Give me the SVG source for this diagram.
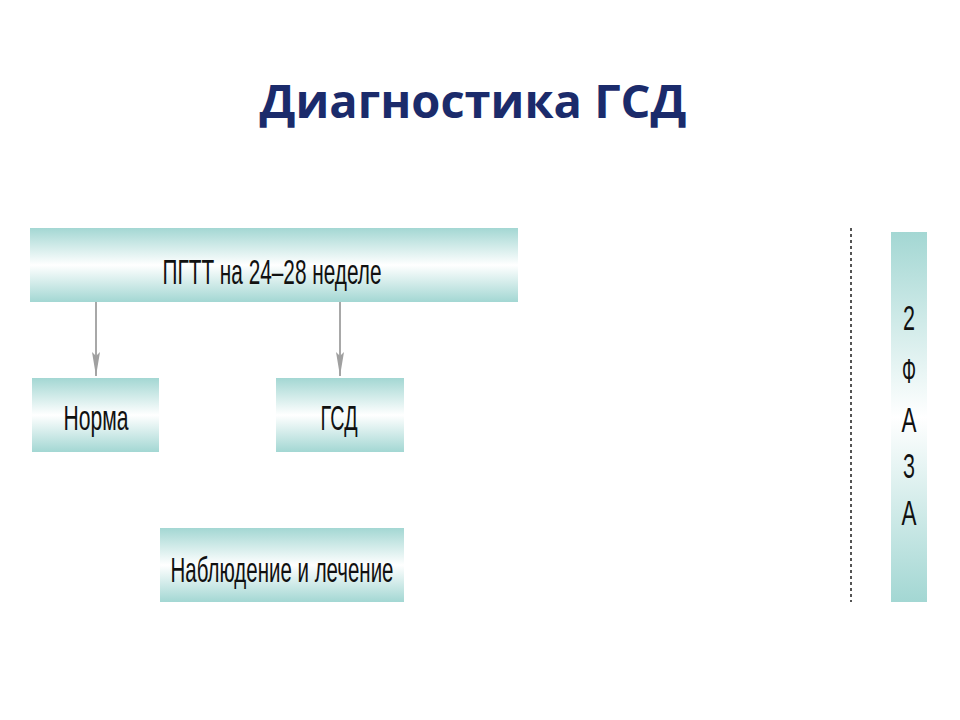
<svg xmlns="http://www.w3.org/2000/svg" width="960" height="720" viewBox="0 0 960 720">
<defs>
<linearGradient id="gv" x1="0" y1="0" x2="0" y2="1">
<stop offset="0" stop-color="#A3D7D3"/>
<stop offset="0.5" stop-color="#FFFFFF"/>
<stop offset="1" stop-color="#A3D7D3"/>
</linearGradient>
<marker id="ah" viewBox="0 0 24 8" refX="24" refY="4" markerWidth="24" markerHeight="8" markerUnits="userSpaceOnUse" orient="auto">
<path d="M0,0 L4,4 L0,8 L24,4 Z" fill="#A0A0A0"/>
</marker>
</defs>
<style>
.box{fill:url(#gv);}
.lbl{font-family:"Liberation Sans",Arial,sans-serif;font-size:35px;fill:#111;text-anchor:middle;}
.con{stroke:#A8A8A8;stroke-width:2;fill:none;}
</style>
<rect width="960" height="720" fill="#FFFFFF"/>
<text x="473" y="118" font-family="'Open Sans','Liberation Sans',sans-serif" font-weight="bold" font-size="47" fill="#1B2B6B" text-anchor="middle">Диагностика ГСД</text>
<g id="connectors">
<line class="con" x1="96" y1="302" x2="96" y2="376" marker-end="url(#ah)"/>
<line class="con" x1="340" y1="302" x2="340" y2="376" marker-end="url(#ah)"/>
<line x1="851" y1="228" x2="851" y2="602" stroke="#555" stroke-width="2" stroke-dasharray="3,3"/>
</g>
<g id="pgtt">
<rect class="box" x="30" y="228" width="488" height="74"/>
<text class="lbl" x="272" y="284" textLength="219" lengthAdjust="spacingAndGlyphs">ПГТТ на 24–28 неделе</text>
</g>
<g id="norma">
<rect class="box" x="32" y="378" width="127" height="74"/>
<text class="lbl" x="96" y="430" textLength="65" lengthAdjust="spacingAndGlyphs">Норма</text>
</g>
<g id="gsd">
<rect class="box" x="276" y="378" width="128" height="74"/>
<text class="lbl" x="339" y="430" textLength="37" lengthAdjust="spacingAndGlyphs">ГСД</text>
</g>
<g id="nabl">
<rect class="box" x="160" y="528" width="244" height="74"/>
<text class="lbl" x="282" y="582" textLength="223" lengthAdjust="spacingAndGlyphs">Наблюдение и лечение</text>
</g>
<g id="faza">
<rect class="box" x="891" y="232" width="36" height="370"/>
<text class="lbl" x="909" y="330" textLength="12" lengthAdjust="spacingAndGlyphs">2</text>
<text class="lbl" x="909" y="383" textLength="14" lengthAdjust="spacingAndGlyphs">Ф</text>
<text class="lbl" x="909" y="432" textLength="15" lengthAdjust="spacingAndGlyphs">А</text>
<text class="lbl" x="909" y="478" textLength="12" lengthAdjust="spacingAndGlyphs">З</text>
<text class="lbl" x="909" y="525" textLength="15" lengthAdjust="spacingAndGlyphs">А</text>
</g>
</svg>
